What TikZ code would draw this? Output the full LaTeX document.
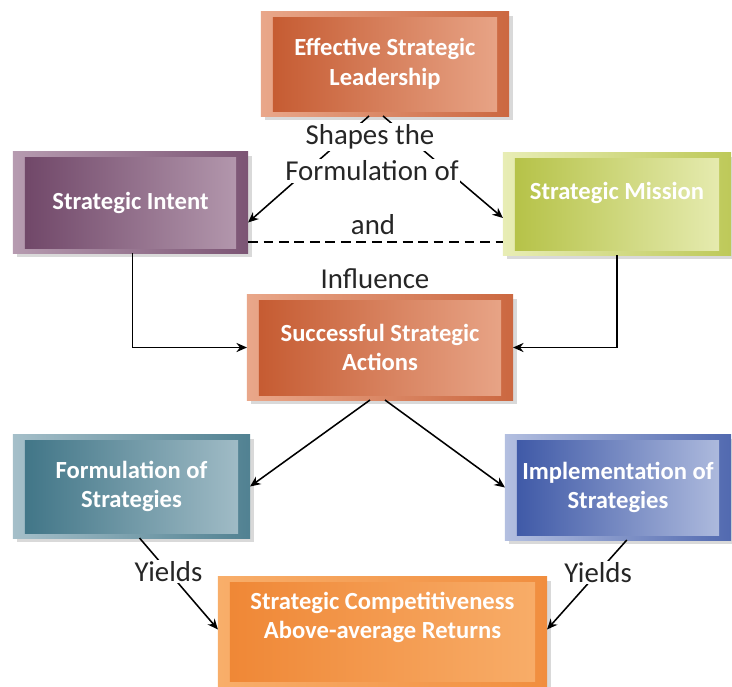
\documentclass[tikz,border=0pt]{standalone}
\usepackage{fontspec}
\setmainfont{Carlito}
\usepackage{tikz}
\usetikzlibrary{arrows.meta, shadows}
\definecolor{leaddark}{HTML}{C4582E}
\definecolor{leadlight}{HTML}{E9A78A}
\definecolor{intentdark}{HTML}{6D4365}
\definecolor{intentlight}{HTML}{B69BB0}
\definecolor{missiondark}{HTML}{B3C042}
\definecolor{missionlight}{HTML}{E8EDB5}
\definecolor{formdark}{HTML}{3C7284}
\definecolor{formlight}{HTML}{A5BFC9}
\definecolor{impldark}{HTML}{3954A4}
\definecolor{impllight}{HTML}{B3BFE0}
\definecolor{retdark}{HTML}{EF8634}
\definecolor{retlight}{HTML}{F8AE6A}

\begin{document}
\begin{tikzpicture}[
    x=0.025cm, y=-0.025cm,
    box/.style 2 args={rectangle, outer sep=0pt, inner sep=0pt,
                  left color=#2, right color=#1!80!#2,
                  align=center, text=white,
                  font=\bfseries\fontsize{17.5}{21}\selectfont,
                  drop shadow={shadow xshift=3pt, shadow yshift=-3pt, opacity=0.3},
                  path picture={\fill[left color=#1, right color=#2]
                      ([shift={(8.5pt,3.5pt)}]path picture bounding box.south west) rectangle
                      ([shift={(-8.5pt,-4pt)}]path picture bounding box.north east);}},
    tag/.style={font=\fontsize{20.5}{24}\selectfont, text=black!85,
                fill=white, inner sep=1pt},
    arrow/.style={-{Stealth[length=7.5pt, width=6.5pt]}, line width=1.1pt},
  ]
  \useasboundingbox (0,0) rectangle (732,686);

  % Top row — leadership
  \node[box={leaddark}{leadlight}, minimum width=6.2cm, minimum height=2.6cm]
    (lead) at (385,64) {Effective Strategic\\Leadership};

  % Second row — intent and mission
  \node[box={intentdark}{intentlight}, minimum width=5.875cm, minimum height=2.525cm]
    (intent) at (130.5,202.5) {Strategic Intent};
  \node[box={missiondark}{missionlight}, minimum width=5.7cm, minimum height=2.55cm,
        text depth=0.65cm]
    (mission) at (617,204) {Strategic Mission};

  % Middle — actions
  \node[box={leaddark}{leadlight}, minimum width=6.65cm, minimum height=2.625cm]
    (actions) at (380,347.5) {Successful Strategic\\Actions};

  % Fourth row — formulation and implementation
  \node[box={formdark}{formlight}, minimum width=5.925cm, minimum height=2.575cm]
    (formul) at (131.5,486.5) {Formulation of\\Strategies};
  \node[box={impldark}{impllight}, minimum width=5.65cm, minimum height=2.625cm]
    (impl) at (618,487.5) {Implementation of\\Strategies};

  % Bottom — outcome
  \node[box={retdark}{retlight}, minimum width=8.225cm, minimum height=2.725cm,
        text depth=0.8cm]
    (returns) at (382.5,631.5) {Strategic Competitiveness\\Above-average Returns};

  \draw[arrow] ([xshift=-0.4cm]lead.south) -- ([yshift=-0.5cm]intent.east);
  \draw[arrow] ([xshift=-0.05cm]lead.south) -- ([yshift=-0.35cm]mission.west);
  \draw[dashed, dash pattern=on 7pt off 4pt, line width=1.3pt]
    ([yshift=-0.98cm]intent.east) -- ([yshift=-0.98cm]intent.east -| mission.west);
  \draw[arrow] ([xshift=0.05cm]intent.south) |- (actions.west);
  \draw[arrow] (mission.south) |- (actions.east);
  \draw[arrow] ([xshift=-0.25cm]actions.south) -- (formul.east);
  \draw[arrow] ([xshift=0.125cm]actions.south) -- (impl.west);
  \draw[arrow] ([xshift=0.2cm]formul.south) -- node[tag, pos=0.37] {Yields}
    ([yshift=0.05cm]returns.west);
  \draw[arrow] ([xshift=0.22cm]impl.south) -- node[tag, pos=0.36] {Yields}
    ([yshift=0.05cm]returns.east);

  % Labels
  \node[tag] (shapes) at (370,137) {Shapes the};
  \node[tag] (formof) at (372,171) {Formulation of};
  \node[tag, fill=none] (andlbl) at (373,225) {and};
  \node[tag, fill=none] (infl) at (375,279) {Influence};

\end{tikzpicture}
\end{document}
